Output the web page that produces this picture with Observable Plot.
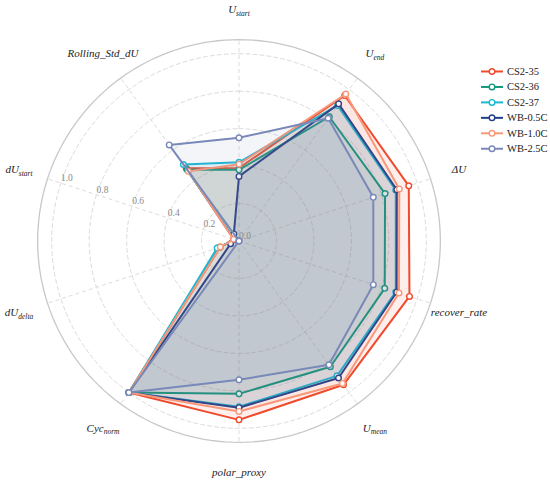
<!DOCTYPE html>
<html>
<head>
<meta charset="utf-8">
<script src="https://cdn.jsdelivr.net/npm/d3@7"></script>
<script src="https://cdn.jsdelivr.net/npm/@observablehq/plot@0.6"></script>
<style>
  html, body { margin: 0; padding: 0; background: #fff; }
  #chart { width: 550px; height: 481px; }
  #chart svg, #chart svg text { font-family: "Liberation Serif", "DejaVu Serif", serif !important; }
</style>
</head>
<body>
<div id="chart"></div>
<script>
// ---- data ----
const axes = ["U_start", "U_end", "ΔU", "recover_rate", "U_mean", "polar_proxy", "Cyc_norm", "dU_delta", "dU_start", "Rolling_Std_dU"];
const axisMain = ["U", "U", "ΔU", "recover_rate", "U", "polar_proxy", "Cyc", "dU", "dU", "Rolling_Std_dU"];
const axisSub  = ["start", "end", "", "", "mean", "", "norm", "delta", "start", ""];
const seriesNames = ["CS2-35", "CS2-36", "CS2-37", "WB-0.5C", "WB-1.0C", "WB-2.5C"];
const seriesColors = ["#f04a2d", "#12967a", "#1bb8d3", "#203f88", "#f8987b", "#7888b8"];
const CS2_35  = [0.39, 0.96, 0.953, 0.957, 0.949, 0.955, 1.0, 0.105, 0.03, 0.48];
const CS2_36  = [0.38, 0.82, 0.82, 0.818, 0.83, 0.816, 1.0, 0.11, 0.025, 0.47];
const CS2_37  = [0.42, 0.895, 0.88, 0.88, 0.89, 0.885, 1.0, 0.123, 0.025, 0.505];
const WB_05C  = [0.345, 0.905, 0.886, 0.885, 0.904, 0.89, 1.0, 0.047, 0.02, 0.047];
const WB_10C  = [0.41, 0.97, 0.90, 0.898, 0.94, 0.91, 1.0, 0.105, 0.03, 0.46];
const WB_25C  = [0.551, 0.81, 0.754, 0.754, 0.817, 0.741, 1.0, 0.0, 0.0, 0.634];
const seriesValues = [CS2_35, CS2_36, CS2_37, WB_05C, WB_10C, WB_25C];
const radialTicks = [0.0, 0.2, 0.4, 0.6, 0.8, 1.0];
const tickLabels = ["0.0", "0.2", "0.4", "0.6", "0.8", "1.0"];

// ---- geometry ----
const W = 550, H = 481;
const CX = 238.5, CY = 240.5, K = 187.3;   // center px, px per unit
const RMAX = 1.075, RLAB = 1.235;
const N = axes.length;
const ang = i => i * 2 * Math.PI / N;
const px = (r, i) => r * Math.sin(ang(i));
const py = (r, i) => r * Math.cos(ang(i));
const X = p => (p - CX) / K;
const Y = p => (CY - p) / K;

const rows = [];
seriesNames.forEach((s, si) => {
  seriesValues[si].forEach((v, i) => rows.push({series: s, si, axis: axes[i], i, v}));
});

const circlePts = t => d3.range(0, 361, 2).map(a => ({t, a}));
const gridCircles = radialTicks.filter(t => t > 0).flatMap(circlePts);
const outer = circlePts(RMAX);
const spokes = axes.map((a, i) => ({i}));
const serif = "Liberation Serif";

const marks = [
  Plot.line(gridCircles, {
    x: d => d.t * Math.sin(d.a * Math.PI / 180), y: d => d.t * Math.cos(d.a * Math.PI / 180),
    z: "t", stroke: "#dcdcdc", strokeWidth: 1, strokeDasharray: "4,3"
  }),
  Plot.link(spokes, {
    x1: 0, y1: 0, x2: d => px(RMAX, d.i), y2: d => py(RMAX, d.i),
    stroke: "#dcdcdc", strokeWidth: 1, strokeDasharray: "4,3"
  }),
  Plot.line(outer, {
    x: d => d.t * Math.sin(d.a * Math.PI / 180), y: d => d.t * Math.cos(d.a * Math.PI / 180),
    stroke: "#c8c8c8", strokeWidth: 1.3
  }),
];

seriesNames.forEach((s, si) => {
  const data = rows.filter(d => d.si === si);
  const c = seriesColors[si];
  marks.push(
    Plot.line(data, {
      x: d => px(d.v, d.i), y: d => py(d.v, d.i), curve: "linear-closed",
      fill: c, fillOpacity: 0.085, stroke: c, strokeWidth: 2, strokeLinejoin: "round"
    }),
    Plot.dot(data, {
      x: d => px(d.v, d.i), y: d => py(d.v, d.i), r: 2.8,
      fill: "white", stroke: c, strokeWidth: 1.4
    })
  );
});

const tickAxis = 8;
marks.push(
  Plot.text(radialTicks.map((t, k) => ({t, label: tickLabels[k]})), {
    x: d => px(d.t, tickAxis), y: d => py(d.t, tickAxis), text: "label",
    dx: 6, dy: -5, fill: "#8a8a8a", fontSize: 9.5, fontFamily: serif
  })
);

marks.push(
  Plot.text(axes.map((a, i) => ({a, i})), {
    x: d => px(RLAB, d.i), y: d => py(RLAB, d.i), text: "a",
    fill: "#222", fontSize: 11, fontFamily: serif, fontStyle: "italic",
    className: "axis-label"
  })
);

const LY = i => 71 + 15.45 * i;
const legendRows = seriesNames.map((s, si) => ({s, si}));
marks.push(
  Plot.link(legendRows, {
    x1: X(480.5), x2: X(502.5), y1: d => Y(LY(d.si)), y2: d => Y(LY(d.si)),
    stroke: d => seriesColors[d.si], strokeWidth: 2
  }),
  Plot.dot(legendRows, {
    x: X(491.5), y: d => Y(LY(d.si)), r: 2.8, fill: "white",
    stroke: d => seriesColors[d.si], strokeWidth: 1.4
  }),
  Plot.text(legendRows, {
    x: X(506.5), y: d => Y(LY(d.si)), text: "s", textAnchor: "start",
    fill: "#222", fontSize: 10.5, fontFamily: serif
  })
);

const chart = Plot.plot({
  width: W, height: H,
  marginTop: 0, marginRight: 0, marginBottom: 0, marginLeft: 0,
  x: {domain: [X(0), X(W)], range: [0, W], axis: null},
  y: {domain: [Y(H), Y(0)], range: [H, 0], axis: null},
  style: {background: "white", overflow: "visible", fontFamily: serif},
  marks
});

document.getElementById("chart").appendChild(chart);

d3.select(chart).selectAll("g.axis-label text").each(function() {
  const txt = this.textContent;
  const i = axes.indexOf(txt);
  if (i < 0 || !axisSub[i]) return;
  const sel = d3.select(this);
  sel.text(null);
  sel.append("tspan").text(axisMain[i]);
  sel.append("tspan").attr("font-size", 7.5).attr("dy", "0.35em").text(axisSub[i]);
});
</script>
</body>
</html>
